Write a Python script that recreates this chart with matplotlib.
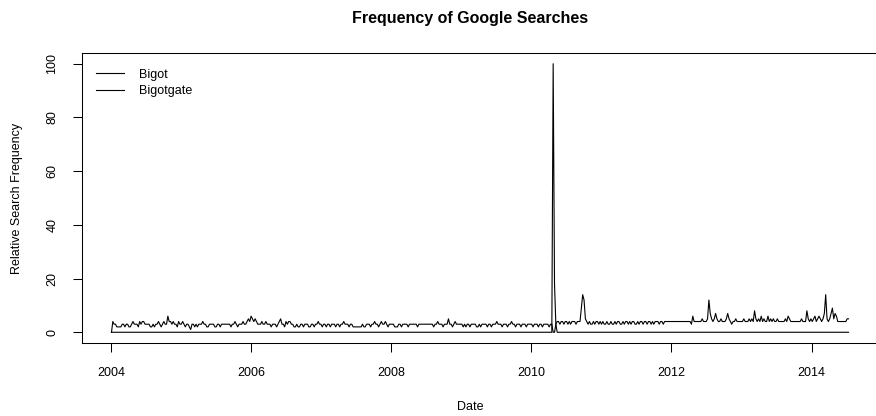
import matplotlib
matplotlib.use("Agg")
import matplotlib.pyplot as plt
import matplotlib.dates as mdates
import pandas as pd

# weekly relative search frequency, one row per year (week rows start early Jan)
bigot_2004 = [0, 4, 3, 3, 2, 2, 2, 2, 3, 3, 2, 3, 3, 2, 2, 3, 4, 3, 3, 3, 2, 4, 3, 4, 4, 3,
              3, 3, 3, 2, 2, 3, 2, 3, 3, 4, 3, 2, 3, 4, 3, 3, 6, 4, 4, 3, 4, 3, 3, 2, 4, 3]
bigot_2005 = [3, 4, 3, 2, 3, 3, 2, 1, 3, 3, 2, 3, 2, 3, 3, 3, 4, 3, 3, 2, 2, 3, 3, 3, 3, 2,
              2, 3, 3, 2, 3, 3, 3, 3, 3, 3, 3, 2, 3, 3, 4, 3, 2, 3, 3, 3, 4, 3, 3, 4, 5, 4]
bigot_2006 = [6, 5, 4, 5, 4, 3, 3, 3, 4, 3, 3, 4, 3, 3, 3, 2, 3, 3, 3, 2, 3, 4, 5, 3, 3, 2,
              4, 3, 4, 4, 3, 3, 2, 2, 3, 2, 2, 3, 3, 2, 3, 3, 3, 2, 2, 3, 3, 2, 3, 3, 4, 3]
bigot_2007 = [3, 2, 3, 3, 2, 3, 3, 2, 3, 3, 3, 2, 3, 3, 2, 3, 3, 4, 3, 3, 3, 2, 3, 3, 2, 2,
              2, 2, 2, 2, 2, 3, 2, 2, 3, 3, 3, 2, 3, 3, 4, 3, 3, 2, 3, 4, 3, 3, 4, 3, 2, 3]
bigot_2008 = [3, 3, 3, 2, 2, 2, 3, 3, 2, 3, 3, 3, 3, 2, 3, 3, 3, 3, 3, 3, 2, 3, 3, 3, 3, 3,
              3, 3, 3, 3, 3, 3, 2, 3, 3, 4, 3, 3, 3, 2, 3, 3, 3, 5, 3, 3, 2, 3, 4, 3, 3, 3]
bigot_2009 = [3, 3, 2, 3, 2, 3, 3, 2, 3, 3, 3, 3, 2, 2, 3, 2, 3, 3, 3, 3, 2, 3, 3, 2, 3, 3,
              3, 4, 3, 3, 3, 2, 3, 3, 3, 2, 3, 3, 4, 3, 3, 2, 3, 3, 3, 2, 3, 3, 3, 2, 3, 3]
bigot_2010 = [3, 3, 2, 3, 3, 3, 2, 3, 3, 2, 3, 3, 3, 3, 2, 3, 3, 0, 0, 3, 4, 4, 3, 4, 4, 3,
              4, 4, 3, 4, 3, 4, 4, 4, 3, 4, 4, 4, 9, 14, 12, 5, 4, 3, 4, 3, 3, 4, 3, 4, 4, 3]
bigot_2011 = [4, 3, 4, 3, 3, 4, 3, 3, 4, 3, 3, 4, 3, 4, 4, 3, 3, 4, 3, 4, 4, 3, 4, 3, 4, 4,
              3, 3, 4, 3, 4, 4, 3, 4, 4, 3, 4, 4, 3, 4, 3, 4, 4, 4, 3, 4, 4, 3, 4, 4, 4, 4]
bigot_2012 = [4, 4, 4, 4, 4, 4, 4, 4, 4, 4, 4, 4, 4, 4, 4, 4, 3, 6, 4, 4, 4, 4, 4, 4, 5, 4,
              4, 4, 5, 12, 7, 5, 4, 5, 7, 5, 4, 4, 5, 4, 4, 4, 5, 7, 5, 4, 3, 4, 4, 5, 4, 4]
bigot_2013 = [4, 4, 4, 5, 4, 4, 4, 5, 4, 5, 4, 8, 5, 4, 5, 4, 6, 4, 5, 4, 4, 6, 4, 5, 4, 5,
              4, 4, 5, 4, 4, 4, 4, 4, 5, 4, 6, 5, 4, 4, 4, 4, 4, 4, 4, 4, 5, 4, 4, 4, 8, 5]
bigot_2014 = [4, 5, 4, 5, 6, 4, 5, 6, 5, 4, 5, 7, 14, 5, 4, 5, 7, 9, 5, 7, 6, 4, 4, 4, 4, 4,
              4, 4, 5, 5]

bigot = (bigot_2004 + bigot_2005 + bigot_2006 + bigot_2007 + bigot_2008 + bigot_2009
         + bigot_2010 + bigot_2011 + bigot_2012 + bigot_2013 + bigot_2014)

# Bigotgate: zero except the April 2010 spike
bigotgate = [0] * 329 + [100, 18, 3] + [0] * 218

dates = pd.date_range("2004-01-04", periods=len(bigot), freq="W-SUN")
series_names = ["Bigot", "Bigotgate"]

plt.rcParams["font.family"] = ["Liberation Sans", "DejaVu Sans"]
plt.rcParams["font.size"] = 9

fig = plt.figure(figsize=(8.76, 4.16), dpi=100)
ax = fig.add_axes([82 / 876, 73 / 416, 796 / 876, 290 / 416])

ax.plot(dates, bigot, color="black", linewidth=0.8, label=series_names[0])
ax.plot(dates, bigotgate, color="black", linewidth=0.8, label=series_names[1])
ax.margins(x=0.04, y=0.04)

ax.xaxis.set_major_locator(mdates.YearLocator(2))
ax.xaxis.set_major_formatter(mdates.DateFormatter("%Y"))
ax.set_yticks([0, 20, 40, 60, 80, 100])
for lbl in ax.get_yticklabels():
    lbl.set_rotation(90)
    lbl.set_va("center")
ax.tick_params(direction="out", length=6.5, width=0.75, pad=10.5, labelsize=9)
for sp in ax.spines.values():
    sp.set_linewidth(0.75)

ax.set_xlabel("Date", fontsize=9)
ax.xaxis.set_label_coords((470 - 82) / 796, (343 - 407) / 290)
ax.xaxis.label.set_va("center")
ax.set_ylabel("Relative Search Frequency", fontsize=9)
ax.yaxis.set_label_coords((17 - 82) / 796, 0.5)
ax.yaxis.label.set_va("center")

fig.text(470 / 876, 1 - 19 / 416, "Frequency of Google Searches",
         fontsize=11.5, fontweight="bold", ha="center", va="center")

ax.legend(loc="upper left", frameon=False, bbox_to_anchor=(0.004, 0.985),
          handlelength=2.2, handletextpad=1.2, labelspacing=0.35, borderaxespad=0.5)

fig.savefig("out.png", dpi=100)
